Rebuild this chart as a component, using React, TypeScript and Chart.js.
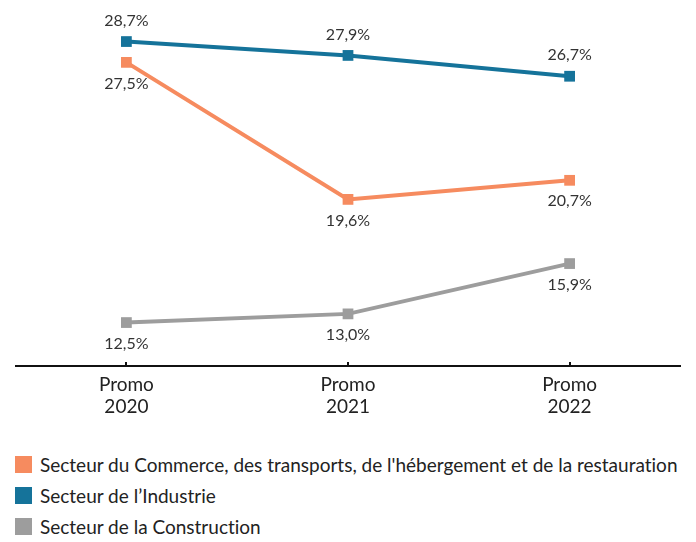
import React, { useEffect, useRef } from "react";
import { Chart, registerables } from "chart.js";

Chart.register(...registerables);

const categories: string[][] = [["Promo", "2020"], ["Promo", "2021"], ["Promo", "2022"]];
const seriesNames = [
  "Secteur du Commerce, des transports, de l'hébergement et de la restauration",
  "Secteur de l’Industrie",
  "Secteur de la Construction",
];
const commerce = [27.5, 19.6, 20.7];
const industrie = [28.7, 27.9, 26.7];
const construction = [12.5, 13.0, 15.9];
const colors = ["#F68B5F", "#15739A", "#9D9D9D"];
const labelPositions: string[][] = [
  ["below", "below", "below"],
  ["above", "above", "above"],
  ["below", "below", "below"],
];
const seriesValues = [commerce, industrie, construction];

const FONT = "Lato, 'Noto Sans', sans-serif";

const fmt = (v: number) => v.toFixed(1).replace(".", ",") + "%";

const labelsPlugin = {
  id: "valueLabels",
  afterDatasetsDraw(chart: any) {
    const ctx = chart.ctx;
    ctx.save();
    ctx.font = `16px ${FONT}`;
    ctx.fillStyle = "#333333";
    ctx.textAlign = "center";
    ctx.textBaseline = "middle";
    chart.data.datasets.forEach((ds: any, di: number) => {
      const meta = chart.getDatasetMeta(di);
      meta.data.forEach((pt: any, i: number) => {
        const pos = labelPositions[di][i];
        const dy = pos === "above" ? -21 : 21;
        ctx.fillText(fmt(ds.data[i]), pt.x, pt.y + dy);
      });
    });
    ctx.restore();
  },
};

const tickMarksPlugin = {
  id: "tickMarks",
  afterDraw(chart: any) {
    const ctx = chart.ctx;
    const xs = chart.scales.x;
    const bottom = chart.chartArea.bottom;
    ctx.save();
    ctx.strokeStyle = "#111111";
    ctx.lineWidth = 2;
    categories.forEach((_, i) => {
      const x = Math.round(xs.getPixelForValue(i));
      ctx.beginPath();
      ctx.moveTo(x, bottom - 4);
      ctx.lineTo(x, bottom);
      ctx.stroke();
    });
    ctx.restore();
  },
};

export default function App() {
  const canvasRef = useRef<HTMLCanvasElement | null>(null);

  useEffect(() => {
    if (!canvasRef.current) return;
    const chart = new Chart(canvasRef.current, {
      type: "line",
      data: {
        labels: categories,
        datasets: seriesValues.map((vals, i) => ({
          label: seriesNames[i],
          data: vals,
          borderColor: colors[i],
          backgroundColor: colors[i],
          borderWidth: 4,
          pointStyle: "rect",
          pointRadius: 7.6,
          pointBorderWidth: 0,
          pointBackgroundColor: colors[i],
          tension: 0,
          fill: false,
        })),
      },
      options: {
        responsive: false,
        animation: false,
        layout: { padding: { top: 11, left: 4, right: 2, bottom: 2 } },
        plugins: {
          legend: { display: false },
          tooltip: { enabled: false },
        },
        scales: {
          y: { display: false, min: 10, max: 30 },
          x: {
            offset: true,
            grid: { display: false, drawTicks: false },
            border: { display: true, color: "#111111", width: 2 },
            ticks: {
              color: "#222222",
              padding: 8,
              maxRotation: 0,
              font: { family: FONT, size: 19, lineHeight: 1.16 },
            },
          },
        },
      },
      plugins: [labelsPlugin, tickMarksPlugin],
    });
    return () => chart.destroy();
  }, []);

  return (
    <div style={{ width: 680, fontFamily: FONT, fontVariantLigatures: "none" }}>
      <canvas ref={canvasRef} width={680} height={420} style={{ display: "block" }} />
      <div style={{ marginTop: 21, paddingLeft: 7 }}>
        {seriesNames.map((name, i) => (
          <div key={i} style={{ display: "flex", alignItems: "center", height: 31, fontSize: 19, color: "#222222" }}>
            <span style={{ width: 17, height: 17, background: colors[i], marginRight: 8, flex: "none" }} />
            <span style={{ whiteSpace: "nowrap" }}>{name}</span>
          </div>
        ))}
      </div>
    </div>
  );
}
